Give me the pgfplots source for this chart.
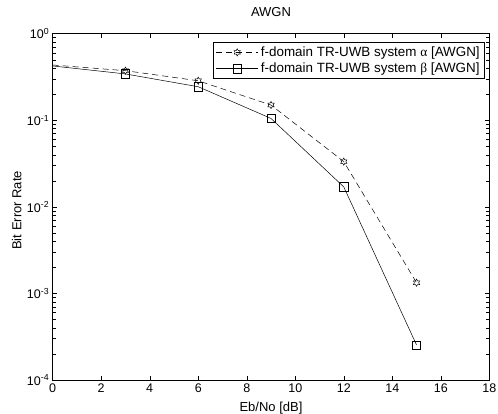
\documentclass[border=0pt]{standalone}
\usepackage{pgfplots}
\pgfplotsset{compat=1.18}
\usepackage{fontspec}
\setmainfont{Liberation Sans}
\newfontfamily\greekfont{Liberation Serif}
\pgfdeclareplotmark{hexagram}{%
  \pgfpathmoveto{\pgfpointpolar{90}{\pgfplotmarksize}}%
  \pgfpathlineto{\pgfpointpolar{120}{0.577\pgfplotmarksize}}%
  \pgfpathlineto{\pgfpointpolar{150}{\pgfplotmarksize}}%
  \pgfpathlineto{\pgfpointpolar{180}{0.577\pgfplotmarksize}}%
  \pgfpathlineto{\pgfpointpolar{210}{\pgfplotmarksize}}%
  \pgfpathlineto{\pgfpointpolar{240}{0.577\pgfplotmarksize}}%
  \pgfpathlineto{\pgfpointpolar{270}{\pgfplotmarksize}}%
  \pgfpathlineto{\pgfpointpolar{300}{0.577\pgfplotmarksize}}%
  \pgfpathlineto{\pgfpointpolar{330}{\pgfplotmarksize}}%
  \pgfpathlineto{\pgfpointpolar{0}{0.577\pgfplotmarksize}}%
  \pgfpathlineto{\pgfpointpolar{30}{\pgfplotmarksize}}%
  \pgfpathlineto{\pgfpointpolar{60}{0.577\pgfplotmarksize}}%
  \pgfpathclose\pgfusepathqstroke}
\begin{document}
\begin{tikzpicture}
\path[use as bounding box] (-52.7pt,-34pt) rectangle (445.3pt,380pt);
\begin{axis}[
  at={(0pt,0pt)}, anchor=south west,
  scale only axis, width=436.6pt, height=346.3pt,
  xmin=0, xmax=18, ymode=log, ymin=1e-4, ymax=1,
  xtick={0,2,...,18},
  ytick={1e-4,1e-3,1e-2,1e-1,1},
  yticklabels={10\textsuperscript{-4},10\textsuperscript{-3},10\textsuperscript{-2},10\textsuperscript{-1},10\textsuperscript{0}},
  xticklabel={\pgfmathprintnumber[assume math mode=true]{\tick}},
  font=\fontsize{13}{15}\selectfont,
  tick label style={font=\fontsize{12.5}{14}\selectfont},
  axis line style={line width=0.5pt},
  tick style={line width=0.4pt, black},
  title={AWGN},
  title style={at={(axis description cs:0.5,1.045)}, anchor=center},
  xlabel={Eb/No [dB]},
  xlabel style={at={(axis description cs:0.5,-0.081)}, anchor=center},
  ylabel={Bit Error Rate},
  ylabel style={at={(axis description cs:-0.0825,0.49)}, anchor=center},
  legend style={at={(rel axis cs:0.99,0.976)}, anchor=north east, draw=black, line width=0.5pt,
    font=\fontsize{13.4}{15}\selectfont, row sep=1pt, inner sep=2.5pt,
    nodes={inner xsep=2.5pt}},
  legend cell align=left,
  legend image code/.code={%
    \draw[mark=none] (0pt,0pt) -- (42pt,0pt);
    \draw[solid] plot[mark indices={1}] coordinates {(21pt,0pt)};},
]
\addplot[black, line width=0.5pt, dash pattern=on 6pt off 4pt, mark=hexagram, mark size=3.6pt, mark indices={2,3,4,5,6}, mark options={solid}]
  coordinates {(0,0.435) (3,0.374) (6,0.286) (9,0.150) (12,0.0333) (15,0.00133)};
\addlegendentry{f-domain TR-UWB system {\greekfont α} [AWGN]}
\addplot[black, line width=0.5pt, mark=square, mark size=4.2pt, mark indices={2,3,4,5,6}]
  coordinates {(0,0.424) (3,0.343) (6,0.244) (9,0.105) (12,0.0170) (15,0.000254)};
\addlegendentry{f-domain TR-UWB system {\greekfont β} [AWGN]}
\end{axis}
\end{tikzpicture}
\end{document}
